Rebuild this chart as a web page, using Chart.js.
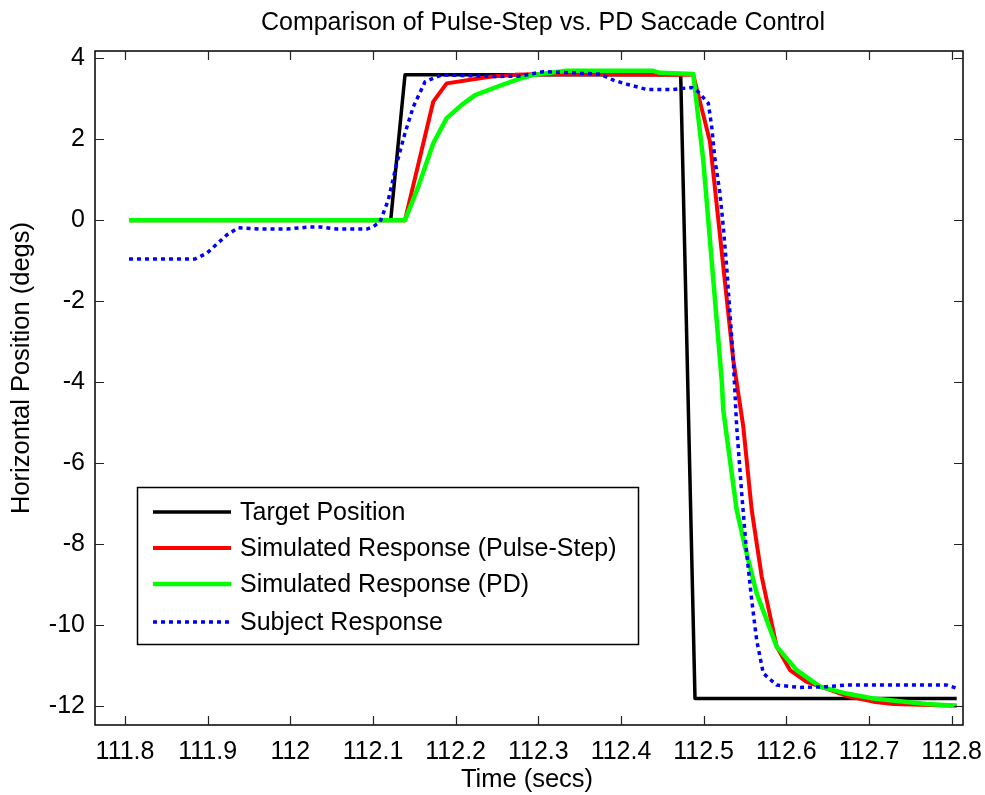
<!DOCTYPE html>
<html>
<head>
<meta charset="utf-8">
<script src="https://cdn.jsdelivr.net/npm/chart.js@4.4.1/dist/chart.umd.min.js"></script>
<style>
  html, body { margin: 0; padding: 0; background: #ffffff; }
  #wrap { width: 985px; height: 795px; }
</style>
</head>
<body>
<div id="wrap"><canvas id="c" width="985" height="795"></canvas></div>
<script>
// ---------- data ----------
const chartTitle = "Comparison of Pulse-Step vs. PD Saccade Control";
const xAxisTitle = "Time (secs)";
const yAxisTitle = "Horizontal Position (degs)";

const seriesNames = ["Target Position", "Simulated Response (Pulse-Step)", "Simulated Response (PD)", "Subject Response"];

const xTicks = [111.8, 111.9, 112.0, 112.1, 112.2, 112.3, 112.4, 112.5, 112.6, 112.7, 112.8];
const xTickLabels = ["111.8", "111.9", "112", "112.1", "112.2", "112.3", "112.4", "112.5", "112.6", "112.7", "112.8"];
const yTicks = [-12, -10, -8, -6, -4, -2, 0, 2, 4];
const yTickLabels = ["-12", "-10", "-8", "-6", "-4", "-2", "0", "2", "4"];

const targetT = [111.8048, 112.1214, 112.1387, 112.4722, 112.4895, 112.8061];
const targetV = [0, 0, 3.59, 3.59, -11.82, -11.82];

const pulseT = [111.8048, 112.1387, 112.1729, 112.1891, 112.2436, 112.2718, 112.3080, 112.4874, 112.5076, 112.5358, 112.5479, 112.5581, 112.5702, 112.5883, 112.6044, 112.6246, 112.6528, 112.6730, 112.7052, 112.7294, 112.8061];
const pulseV = [0, 0, 2.93, 3.38, 3.55, 3.59, 3.61, 3.59, 1.94, -3.45, -5.10, -7.16, -8.81, -10.54, -11.12, -11.41, -11.61, -11.76, -11.90, -11.96, -12.0];

const pdT = [111.8048, 112.1387, 112.1548, 112.1729, 112.1891, 112.2073, 112.2234, 112.2557, 112.2778, 112.2939, 112.3343, 112.4387, 112.4472, 112.4874, 112.4995, 112.5218, 112.5237, 112.5318, 112.5399, 112.5500, 112.5641, 112.5883, 112.6125, 112.6407, 112.6730, 112.7052, 112.7698, 112.8061];
const pdV = [0, 0, 0.83, 1.90, 2.52, 2.85, 3.09, 3.34, 3.50, 3.59, 3.69, 3.69, 3.64, 3.61, 1.48, -3.95, -4.69, -5.93, -7.16, -8.07, -9.22, -10.54, -11.12, -11.53, -11.70, -11.82, -11.96, -12.0];

const subjT = [111.8048, 111.8847, 111.8988, 111.9230, 111.9371, 111.9633, 111.9956, 112.0238, 112.0359, 112.0561, 112.0924, 112.1004, 112.1085, 112.1185, 112.1287, 112.1387, 112.1487, 112.1629, 112.1831, 112.2451, 112.2778, 112.3060, 112.3746, 112.3907, 112.4069, 112.4311, 112.4632, 112.4855, 112.4935, 112.5056, 112.5097, 112.5137, 112.5197, 112.5237, 112.5278, 112.5318, 112.5358, 112.5399, 112.5460, 112.5520, 112.5581, 112.5641, 112.5721, 112.5883, 112.6165, 112.6488, 112.6730, 112.7698, 112.7940, 112.8061];
const subjV = [-0.96, -0.96, -0.82, -0.37, -0.19, -0.22, -0.22, -0.17, -0.17, -0.22, -0.22, -0.16, -0.04, 0.50, 1.40, 2.15, 2.80, 3.42, 3.59, 3.55, 3.56, 3.67, 3.61, 3.46, 3.36, 3.23, 3.23, 3.28, 3.17, 2.89, 2.31, 1.49, 0.66, -0.16, -1.15, -2.30, -3.45, -5.10, -6.75, -8.23, -9.39, -10.38, -11.20, -11.49, -11.55, -11.53, -11.49, -11.49, -11.49, -11.57];

// ---------- helpers ----------
function pts(t, v) { return t.map((x, i) => ({ x: x, y: v[i] })); }
const FONT = "'Liberation Sans', Arial, Helvetica, sans-serif";

const styles = [
  { color: "#000000", width: 3.5, dash: [], order: 4 },
  { color: "#ff0000", width: 4, dash: [], order: 3 },
  { color: "#00ff00", width: 4.5, dash: [], order: 2 },
  { color: "#0000ff", width: 3.5, dash: [4, 4], order: 1 }
];
const seriesData = [pts(targetT, targetV), pts(pulseT, pulseV), pts(pdT, pdV), pts(subjT, subjV)];

const datasets = seriesNames.map((name, i) => ({
  label: name,
  data: seriesData[i],
  borderColor: styles[i].color,
  backgroundColor: styles[i].color,
  borderWidth: styles[i].width,
  borderDash: styles[i].dash,
  borderCapStyle: "butt",
  borderJoinStyle: "round",
  pointRadius: 0,
  pointHoverRadius: 0,
  tension: 0,
  fill: false,
  order: styles[i].order
}));

// ---------- custom drawing: box, inward ticks, titles, legend ----------
const matlabDecor = {
  id: "matlabDecor",
  afterDraw(chart) {
    const ctx = chart.ctx;
    const a = chart.chartArea;
    const xs = chart.scales.x, ys = chart.scales.y;
    ctx.save();
    // box
    ctx.strokeStyle = "#000";
    ctx.lineWidth = 1.5;
    ctx.strokeRect(a.left, a.top, a.right - a.left, a.bottom - a.top);
    // inward ticks
    ctx.lineWidth = 1.2;
    ctx.strokeStyle = "#222";
    const tl = 9;
    ctx.beginPath();
    xTicks.forEach(v => {
      const px = Math.round(xs.getPixelForValue(v)) + 0.5;
      ctx.moveTo(px, a.bottom); ctx.lineTo(px, a.bottom - tl);
      ctx.moveTo(px, a.top); ctx.lineTo(px, a.top + tl);
    });
    yTicks.forEach(v => {
      const py = Math.round(ys.getPixelForValue(v)) + 0.5;
      ctx.moveTo(a.left, py); ctx.lineTo(a.left + tl, py);
      ctx.moveTo(a.right, py); ctx.lineTo(a.right - tl, py);
    });
    ctx.stroke();

    // titles
    ctx.fillStyle = "#000";
    ctx.textAlign = "center";
    ctx.textBaseline = "middle";
    ctx.font = "25px " + FONT;
    ctx.fillText(chartTitle, 543, 23);
    ctx.font = "25.5px " + FONT;
    ctx.fillText(xAxisTitle, 527, 780);
    ctx.save();
    ctx.translate(22, 368);
    ctx.rotate(-Math.PI / 2);
    ctx.fillText(yAxisTitle, 0, 0);
    ctx.restore();

    // legend
    const lx = 137.5, ly = 487.5, lw = 501, lh = 157;
    ctx.fillStyle = "#fff";
    ctx.fillRect(lx, ly, lw, lh);
    ctx.strokeStyle = "#000";
    ctx.lineWidth = 1.5;
    ctx.strokeRect(lx, ly, lw, lh);
    const rowsY = [512, 548, 584, 622];
    ctx.font = "25px " + FONT;
    ctx.textAlign = "left";
    ctx.textBaseline = "middle";
    chart.data.datasets.forEach((ds, i) => {
      const y = rowsY[i];
      ctx.beginPath();
      ctx.strokeStyle = ds.borderColor;
      ctx.lineWidth = ds.borderWidth;
      ctx.setLineDash(ds.borderDash || []);
      ctx.lineCap = "butt";
      ctx.moveTo(153, y); ctx.lineTo(231, y);
      ctx.stroke();
      ctx.setLineDash([]);
      ctx.fillStyle = "#000";
      ctx.fillText(ds.label, 240, y + 1);
    });
    ctx.restore();
  }
};

new Chart(document.getElementById("c"), {
  type: "line",
  data: { datasets: datasets },
  options: {
    responsive: false,
    animation: false,
    events: [],
    layout: { padding: { top: 51, right: 22, bottom: 0, left: 0 } },
    plugins: {
      legend: { display: false },
      title: { display: false },
      tooltip: { enabled: false }
    },
    scales: {
      x: {
        type: "linear",
        min: 111.7637,
        max: 112.8137,
        grid: { display: false, drawTicks: false },
        border: { display: false },
        afterBuildTicks(scale) { scale.ticks = xTicks.map(v => ({ value: v })); },
        afterFit(scale) { scale.height = 70; scale.paddingLeft = 0; scale.paddingRight = 0; },
        ticks: {
          autoSkip: false,
          maxRotation: 0,
          padding: 12,
          color: "#000",
          font: { family: FONT, size: 25 },
          callback: (v, i) => xTickLabels[i]
        }
      },
      y: {
        type: "linear",
        min: -12.477,
        max: 4.18,
        grid: { display: false, drawTicks: false },
        border: { display: false },
        afterBuildTicks(scale) { scale.ticks = yTicks.map(v => ({ value: v })); },
        afterFit(scale) { scale.width = 95; scale.paddingTop = 0; scale.paddingBottom = 0; },
        ticks: {
          autoSkip: false,
          padding: 10,
          color: "#000",
          font: { family: FONT, size: 25 },
          callback: (v, i) => yTickLabels[i]
        }
      }
    }
  },
  plugins: [matlabDecor]
});
</script>
</body>
</html>
